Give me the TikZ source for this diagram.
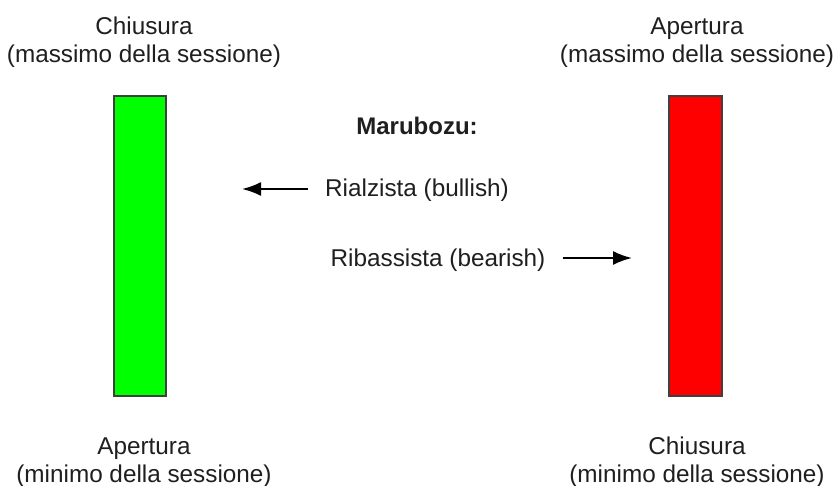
\documentclass[tikz,border=0pt]{standalone}
\usepackage{fontspec}
\setmainfont{Liberation Sans}
\usetikzlibrary{arrows.meta}
\begin{document}
\begin{tikzpicture}[x=1pt,y=-1pt,
  lbl/.style={font=\fontsize{24.3}{28}\selectfont, text=black!88, align=center, inner sep=0pt, anchor=base},
  bar/.style={draw=black!75, line width=2pt},
  arr/.style={-{Latex[length=19pt,width=14pt]}, line width=2pt, draw=black}]
\useasboundingbox (0,0) rectangle (835,486);
\fill[white] (0,0) rectangle (835,486);
% bars
\filldraw[bar, fill={rgb,255:red,0;green,255;blue,0}] (114,96) rectangle (166,396);
\filldraw[bar, fill={rgb,255:red,255;green,0;blue,0}] (669,96) rectangle (722,396);
% labels
\node[lbl] (tl) at (144,63) {Chiusura\\(massimo della sessione)};
\node[lbl] (tr) at (697,63) {Apertura\\(massimo della sessione)};
\node[lbl] (bl) at (144,482) {Apertura\\(minimo della sessione)};
\node[lbl] (br) at (697,482) {Chiusura\\(minimo della sessione)};
\node[lbl, font=\fontsize{24}{28}\bfseries] (mar) at (417,135) {Marubozu:};
\node[lbl, font=\fontsize{24.3}{28}\selectfont] (rial) at (417,197) {Rialzista (bullish)};
\node[lbl, font=\fontsize{24.3}{28}\selectfont] (rib) at (438,267) {Ribassista (bearish)};
% arrows
\coordinate (a1s) at (308,189);
\coordinate (a1e) at (242,189);
\coordinate (a2s) at (563,258);
\coordinate (a2e) at (632,258);
\draw[arr] (a1s) -- (a1e);
\draw[arr] (a2s) -- (a2e);
\end{tikzpicture}
\end{document}
